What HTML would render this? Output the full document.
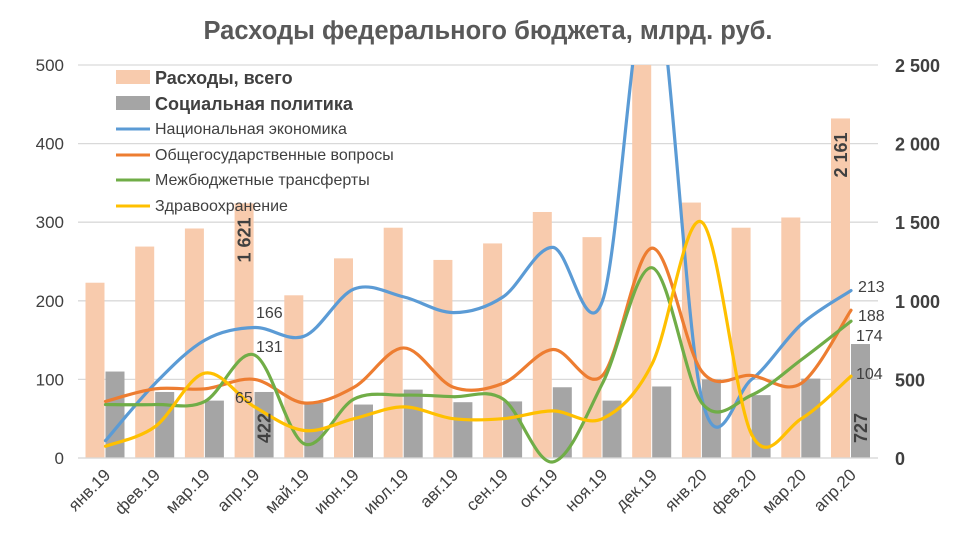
<!DOCTYPE html>
<html><head><meta charset="utf-8"><style>
body{margin:0;background:#fff;}
svg{display:block;font-family:"Liberation Sans","DejaVu Sans",sans-serif;}
</style></head><body>
<svg id="c" width="974" height="551" xmlns="http://www.w3.org/2000/svg">
<text x="488" y="39" text-anchor="middle" font-size="25.5" font-weight="bold" fill="#595959">Расходы федерального бюджета, млрд. руб.</text>
<g id="grid"></g><g id="bars"></g>
<defs><clipPath id="cp"><rect x="70" y="65" width="810" height="400"/></clipPath></defs>
<g id="lines" clip-path="url(#cp)"></g>
<g id="txt"></g>
<g font-size="16" fill="#404040">
<rect x="116" y="70" width="34" height="14" fill="#f8cbad"/><text x="155" y="84" font-size="18" font-weight="bold">Расходы, всего</text>
<rect x="116" y="96" width="34" height="14" fill="#a5a5a5"/><text x="155" y="110" font-size="18" font-weight="bold">Социальная политика</text>
<line x1="116" x2="150" y1="129" y2="129" stroke="#5b9bd5" stroke-width="3"/><text x="155" y="134">Национальная экономика</text>
<line x1="116" x2="150" y1="155" y2="155" stroke="#ed7d31" stroke-width="3"/><text x="155" y="160">Общегосударственные вопросы</text>
<line x1="116" x2="150" y1="180" y2="180" stroke="#70ad47" stroke-width="3"/><text x="155" y="185">Межбюджетные трансферты</text>
<line x1="116" x2="150" y1="206" y2="206" stroke="#ffc000" stroke-width="3"/><text x="155" y="211">Здравоохранение</text>
</g>
</svg>
<script>
const ns="http://www.w3.org/2000/svg";
function el(p,t,a,tx){const e=document.createElementNS(ns,t);for(const k in a)e.setAttribute(k,a[k]);if(tx!==undefined)e.textContent=tx;document.getElementById(p).appendChild(e);return e;}
const Y=v=>458-v*0.786, X=i=>105.5+i*49.7;
for(let v=0;v<=500;v+=100){el('grid','line',{x1:78,x2:878,y1:Y(v),y2:Y(v),stroke:'#d9d9d9','stroke-width':1.3});
el('txt','text',{x:64,y:Y(v)+6,'text-anchor':'end','font-size':17,fill:'#404040'},v);}
const rl=['0','500','1 000','1 500','2 000','2 500'];
rl.forEach((t,i)=>el('txt','text',{x:895,y:Y(i*100)+7,'font-size':18,'font-weight':'bold',fill:'#404040'},t));
const peach=[223,269,292,324,207,254,293,252,273,313,281,520,325,293,306,432];
const gray=[110,84,73,84,70,68,87,71,72,90,73,91,100,80,101,145];
const mon=['янв.19','фев.19','мар.19','апр.19','май.19','июн.19','июл.19','авг.19','сен.19','окт.19','ноя.19','дек.19','янв.20','фев.20','мар.20','апр.20'];
peach.forEach((v,i)=>{const t=Math.max(Y(v),65);el('bars','rect',{x:X(i)-20,y:t,width:19,height:458-t,fill:'#f8cbad'});
el('bars','rect',{x:X(i),y:Y(gray[i]),width:19,height:458-Y(gray[i]),fill:'#a5a5a5'});
el('txt','text',{transform:`translate(${X(i)+6},${476}) rotate(-45)`,'text-anchor':'end','font-size':17,fill:'#404040'},mon[i]);});
el('bars','line',{x1:78,x2:878,y1:458,y2:458,stroke:'#d9d9d9','stroke-width':1.3});
const S={'#5b9bd5':[22,95,150,166,155,215,205,185,205,268,200,620,75,100,170,213],
'#ed7d31':[72,88,88,100,70,90,140,90,95,138,105,267,110,105,95,188],
'#70ad47':[68,68,72,131,18,75,80,78,75,-5,95,242,70,80,125,174],
'#ffc000':[15,40,108,65,35,50,65,50,50,60,50,120,300,30,50,104]};
for(const c in S){const p=S[c].map((v,i)=>[X(i),Y(v)]);let d=`M${p[0]}`;
for(let i=0;i<p.length-1;i++){const a=p[Math.max(i-1,0)],b=p[i],e=p[i+1],f=p[Math.min(i+2,p.length-1)];
d+=`C${b[0]+(e[0]-a[0])/6},${b[1]+(e[1]-a[1])/6} ${e[0]-(f[0]-b[0])/6},${e[1]-(f[1]-b[1])/6} ${e[0]},${e[1]}`;}
el('lines','path',{d:d,fill:'none',stroke:c,'stroke-width':3.2,'stroke-linecap':'round'});}
const L=[[256,318,'166'],[256,352,'131'],[235,403,'65'],[858,292,'213'],[858,321,'188'],[856,341,'174'],[856,379,'104']];
L.forEach(l=>el('txt','text',{x:l[0],y:l[1],'font-size':16,fill:'#404040'},l[2]));
[[X(3)-4,240,'1 621'],[X(15)-4,155,'2 161'],[X(3)+16,428,'422'],[X(15)+16,428,'727']].forEach(l=>
el('txt','text',{transform:`translate(${l[0]},${l[1]}) rotate(-90)`,'text-anchor':'middle','font-size':18,'font-weight':'bold',fill:'#404040'},l[2]));
</script>
</body></html>
